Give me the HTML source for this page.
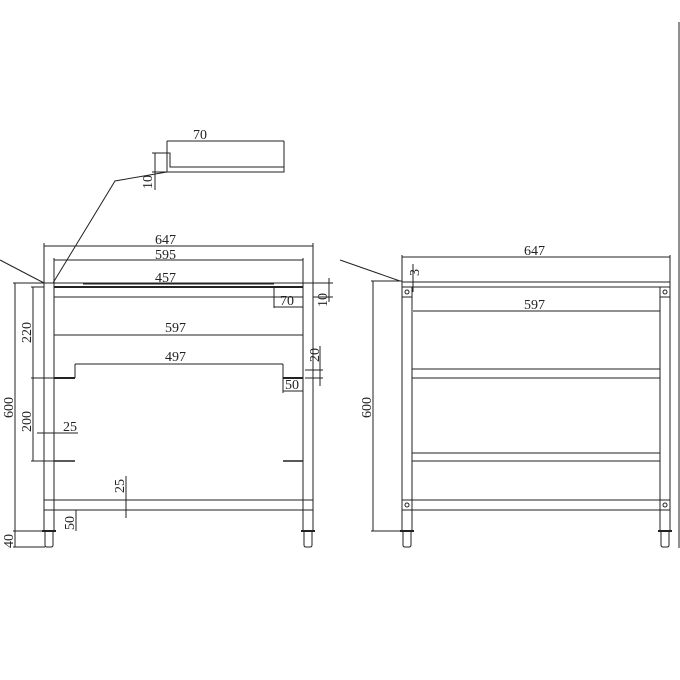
<!DOCTYPE html>
<html><head><style>body{margin:0;background:#fff}svg{display:block}text{font-family:"Liberation Serif",serif;font-size:14px;fill:#222}</style></head><body>
<svg width="680" height="680" viewBox="0 0 680 680" xmlns="http://www.w3.org/2000/svg" stroke="#222" fill="none" stroke-width="1">
<!-- profile -->
<path d="M167 153V172H284V167H170V153Z" stroke-width="1"/>
<line x1="167" y1="141" x2="284" y2="141"/><line x1="284" y1="141" x2="284" y2="167"/><line x1="167" y1="141" x2="167" y2="153"/>
<text x="193" y="139" stroke="none">70</text>
<line x1="155" y1="153" x2="155" y2="190"/><line x1="152" y1="153" x2="167" y2="153"/><line x1="152" y1="172" x2="167" y2="172"/>
<text transform="translate(152,189) rotate(-90)" stroke="none">10</text>
<polyline points="53,283 115,181 167,172"/>
<line x1="0" y1="260" x2="44" y2="283"/>
<!-- left view dims top -->
<line x1="44" y1="246" x2="313" y2="246"/><line x1="44" y1="243" x2="44" y2="283"/><line x1="313" y1="243" x2="313" y2="283"/>
<text x="155" y="244" stroke="none">647</text>
<line x1="54" y1="260" x2="303" y2="260"/><line x1="54" y1="258" x2="54" y2="283"/><line x1="303" y1="258" x2="303" y2="283"/>
<text x="155" y="259" stroke="none">595</text>
<line x1="83" y1="284" x2="274" y2="284"/><text x="155" y="282" stroke="none">457</text>
<!-- left frame -->
<rect x="44" y="283" width="10" height="248"/><rect x="303" y="283" width="10" height="248"/>
<line x1="54" y1="287" x2="303" y2="287" stroke-width="2"/><line x1="44" y1="283" x2="313" y2="283"/>
<line x1="54" y1="297" x2="303" y2="297"/>
<line x1="274" y1="287" x2="274" y2="308"/><line x1="274" y1="307" x2="303" y2="307"/><text x="280" y="305" stroke="none">70</text>
<line x1="313" y1="283" x2="333" y2="283"/><line x1="313" y1="297" x2="333" y2="297"/><line x1="329" y1="278" x2="329" y2="302"/>
<text transform="translate(327,307) rotate(-90)" stroke="none">10</text>
<line x1="54" y1="335" x2="303" y2="335"/><text x="165" y="332" stroke="none">597</text>
<line x1="75" y1="364" x2="283" y2="364"/><line x1="75" y1="364" x2="75" y2="378"/><line x1="283" y1="364" x2="283" y2="378"/>
<text x="165" y="361" stroke="none">497</text>
<line x1="54" y1="378" x2="75" y2="378" stroke-width="2"/><line x1="283" y1="378" x2="303" y2="378" stroke-width="2"/>
<line x1="54" y1="461" x2="75" y2="461" stroke-width="1.5"/><line x1="283" y1="461" x2="303" y2="461" stroke-width="1.5"/>
<line x1="283" y1="378" x2="283" y2="393"/><line x1="283" y1="391" x2="303" y2="391"/><text x="285" y="389" stroke="none">50</text>
<line x1="305" y1="370" x2="323" y2="370"/><line x1="305" y1="378" x2="323" y2="378"/><line x1="320" y1="346" x2="320" y2="386"/>
<text transform="translate(319,362) rotate(-90)" stroke="none">20</text>
<line x1="31" y1="378" x2="54" y2="378"/><line x1="31" y1="461" x2="54" y2="461"/>
<line x1="33" y1="287" x2="33" y2="461"/><line x1="31" y1="287" x2="44" y2="287"/>
<text transform="translate(31,343) rotate(-90)" stroke="none">220</text>
<text transform="translate(31,432) rotate(-90)" stroke="none">200</text>
<line x1="37" y1="433" x2="78" y2="433"/><text x="63" y="431" stroke="none">25</text>
<rect x="44" y="500" width="10" height="10"/><rect x="303" y="500" width="10" height="10"/>
<line x1="54" y1="500" x2="303" y2="500"/><line x1="54" y1="510" x2="303" y2="510"/>
<line x1="126" y1="476" x2="126" y2="518"/><text transform="translate(124,493) rotate(-90)" stroke="none">25</text>
<line x1="76" y1="510" x2="76" y2="531"/><line x1="54" y1="510" x2="78" y2="510"/><text transform="translate(74,530) rotate(-90)" stroke="none">50</text>
<line x1="42" y1="531" x2="56" y2="531" stroke-width="2"/><line x1="301" y1="531" x2="315" y2="531" stroke-width="2"/>
<path d="M45 531V545Q45 547 47 547H51Q53 547 53 545V531"/><path d="M304 531V545Q304 547 306 547H310Q312 547 312 545V531"/>
<line x1="15" y1="283" x2="15" y2="547"/><line x1="13" y1="283" x2="44" y2="283"/><line x1="13" y1="547" x2="45" y2="547"/>
<line x1="13" y1="531" x2="44" y2="531"/>
<text transform="translate(13,418) rotate(-90)" stroke="none">600</text>
<text transform="translate(13,548) rotate(-90)" stroke="none">40</text>
<!-- right view -->
<line x1="340" y1="260" x2="400" y2="281"/>
<line x1="402" y1="257" x2="670" y2="257"/><line x1="402" y1="255" x2="402" y2="282"/><line x1="670" y1="255" x2="670" y2="282"/>
<text x="524" y="255" stroke="none">647</text>
<line x1="413" y1="264" x2="413" y2="292"/><text transform="translate(419,276) rotate(-90)" stroke="none">3</text>
<rect x="402" y="282" width="268" height="5"/>
<rect x="402" y="287" width="10" height="244"/><rect x="660" y="287" width="10" height="244"/>
<rect x="402" y="287" width="10" height="10"/><rect x="660" y="287" width="10" height="10"/>
<circle cx="407" cy="292" r="2"/><circle cx="665" cy="292" r="2"/>
<line x1="413" y1="311" x2="660" y2="311"/><text x="524" y="309" stroke="none">597</text>
<rect x="412" y="369" width="248" height="9"/><rect x="412" y="453" width="248" height="8"/>
<rect x="402" y="500" width="268" height="10"/><rect x="402" y="500" width="10" height="10"/><rect x="660" y="500" width="10" height="10"/>
<circle cx="407" cy="505" r="2"/><circle cx="665" cy="505" r="2"/>
<line x1="400" y1="531" x2="414" y2="531" stroke-width="2"/><line x1="658" y1="531" x2="672" y2="531" stroke-width="2"/>
<path d="M403 531V545Q403 547 405 547H409Q411 547 411 545V531"/><path d="M661 531V545Q661 547 663 547H667Q669 547 669 545V531"/>
<line x1="373" y1="281" x2="373" y2="531"/><line x1="371" y1="281" x2="402" y2="281"/><line x1="371" y1="531" x2="402" y2="531"/>
<text transform="translate(371,418) rotate(-90)" stroke="none">600</text>
<line x1="679" y1="22" x2="679" y2="548"/>
</svg>
</body></html>
